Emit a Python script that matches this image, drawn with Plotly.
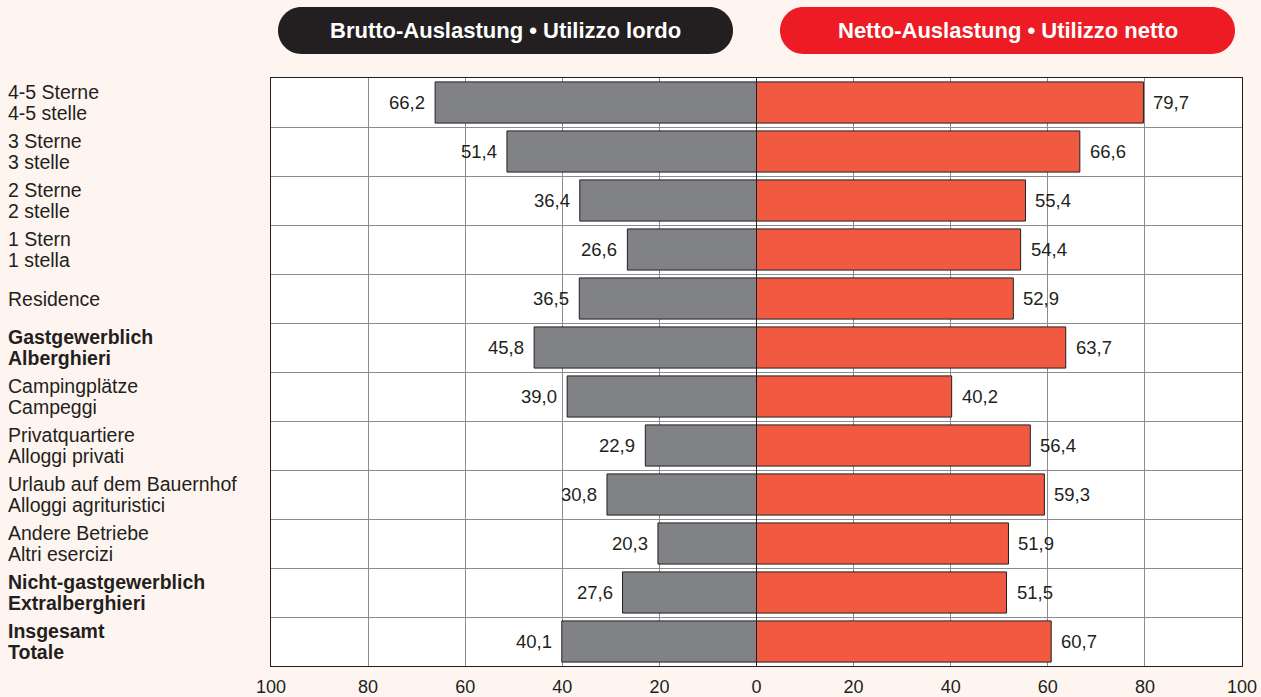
import plotly.graph_objects as go

# ---- data ----
labels_de = ["4-5 Sterne", "3 Sterne", "2 Sterne", "1 Stern", "Residence", "Gastgewerblich",
             "Campingplätze", "Privatquartiere", "Urlaub auf dem Bauernhof", "Andere Betriebe",
             "Nicht-gastgewerblich", "Insgesamt"]
labels_it = ["4-5 stelle", "3 stelle", "2 stelle", "1 stella", "", "Alberghieri",
             "Campeggi", "Alloggi privati", "Alloggi agrituristici", "Altri esercizi",
             "Extralberghieri", "Totale"]
bold_rows = [False, False, False, False, False, True, False, False, False, False, True, True]
brutto = [66.2, 51.4, 36.4, 26.6, 36.5, 45.8, 39.0, 22.9, 30.8, 20.3, 27.6, 40.1]
netto = [79.7, 66.6, 55.4, 54.4, 52.9, 63.7, 40.2, 56.4, 59.3, 51.9, 51.5, 60.7]
tick_vals = [-100, -80, -60, -40, -20, 0, 20, 40, 60, 80, 100]
tick_text = ["100", "80", "60", "40", "20", "0", "20", "40", "60", "80", "100"]
title_left = "Brutto-Auslastung • Utilizzo lordo"
title_right = "Netto-Auslastung • Utilizzo netto"

W, H = 1261, 697
ML, MR, MT, MB = 271, 19, 78, 31
PW, PH = W - ML - MR, H - MT - MB

DARK = "#231f20"
GRAY = "#808285"
RED = "#f15a40"
HEAD_RED = "#ed1c24"
BG = "#fef5f1"
GRID = "#8c8c8c"
FONT = "Liberation Sans, Arial, sans-serif"

idx = list(range(len(labels_de)))


def fmt(v):
    return f"{v:.1f}".replace(".", ",")


fig = go.Figure()
fig.add_trace(go.Bar(y=idx, x=[-v for v in brutto], orientation="h", width=0.84,
                     marker=dict(color=GRAY, line=dict(color=DARK, width=1)),
                     hoverinfo="skip", showlegend=False))
fig.add_trace(go.Bar(y=idx, x=netto, orientation="h", width=0.84,
                     marker=dict(color=RED, line=dict(color=DARK, width=1)),
                     hoverinfo="skip", showlegend=False))

annotations = []
for i in idx:
    annotations.append(dict(x=-brutto[i], y=i, xref="x", yref="y", text=fmt(brutto[i]),
                            showarrow=False, xanchor="right", xshift=-8,
                            font=dict(size=18.5, color=DARK, family=FONT)))
    annotations.append(dict(x=netto[i], y=i, xref="x", yref="y", text=fmt(netto[i]),
                            showarrow=False, xanchor="left", xshift=8,
                            font=dict(size=18.5, color=DARK, family=FONT)))
    lines = [labels_de[i]] + ([labels_it[i]] if labels_it[i] else [])
    shifts = [10.5, -10.5] if len(lines) == 2 else [0]
    for t, s in zip(lines, shifts):
        txt = f"<b>{t}</b>" if bold_rows[i] else t
        annotations.append(dict(x=(6 - ML) / PW, y=i, xref="paper", yref="y", text=txt,
                                showarrow=False, xanchor="left", yshift=s,
                                font=dict(size=19.5, color=DARK, family=FONT)))


def px2paper(x, y):
    return (x - ML) / PW, (H - MB - y) / PH


def pill_path(x0, y0, x1, y1):
    r = (y1 - y0) / 2
    k = 0.5523 * r

    def P(x, y):
        px, py = px2paper(x, y)
        return f"{px:.5f},{py:.5f}"
    d = f"M {P(x0 + r, y0)} L {P(x1 - r, y0)} "
    d += f"C {P(x1 - r + k, y0)} {P(x1, y0 + r - k)} {P(x1, y0 + r)} "
    d += f"C {P(x1, y0 + r + k)} {P(x1 - r + k, y1)} {P(x1 - r, y1)} "
    d += f"L {P(x0 + r, y1)} "
    d += f"C {P(x0 + r - k, y1)} {P(x0, y0 + r + k)} {P(x0, y0 + r)} "
    d += f"C {P(x0, y0 + r - k)} {P(x0 + r - k, y0)} {P(x0 + r, y0)} Z"
    return d


shapes = [
    dict(type="path", xref="paper", yref="paper", path=pill_path(278, 7, 733, 54),
         fillcolor=DARK, line=dict(width=0), layer="above"),
    dict(type="path", xref="paper", yref="paper", path=pill_path(780, 7, 1235, 54),
         fillcolor=HEAD_RED, line=dict(width=0), layer="above"),
]
hx_l = px2paper(505.5, 0)[0]
hx_r = px2paper(1007.5, 0)[0]
hy = px2paper(0, 31)[1]
annotations.append(dict(x=hx_l, y=hy, xref="paper", yref="paper", text=f"<b>{title_left}</b>",
                        showarrow=False, xanchor="center", yanchor="middle",
                        font=dict(size=22, color="white", family=FONT)))
annotations.append(dict(x=hx_r, y=hy, xref="paper", yref="paper", text=f"<b>{title_right}</b>",
                        showarrow=False, xanchor="center", yanchor="middle",
                        font=dict(size=22, color="white", family=FONT)))

fig.update_layout(
    width=W, height=H, margin=dict(l=ML, r=MR, t=MT, b=MB, autoexpand=False),
    paper_bgcolor=BG, plot_bgcolor="white", barmode="overlay",
    font=dict(family=FONT, color=DARK),
    annotations=annotations, shapes=shapes,
    xaxis=dict(range=[-100, 100], tickvals=tick_vals, ticktext=tick_text,
               showgrid=True, gridcolor=GRID, gridwidth=1,
               zeroline=True, zerolinecolor=DARK, zerolinewidth=1,
               showline=True, mirror=True, linecolor=DARK, linewidth=1,
               ticks="", ticklabelstandoff=4, tickfont=dict(size=18, color=DARK, family=FONT),
               fixedrange=True),
    yaxis=dict(range=[11.5, -0.5], tickvals=[i + 0.5 for i in idx[:-1]],
               showticklabels=False, showgrid=True, gridcolor=GRID, gridwidth=1,
               zeroline=False, showline=True, mirror=True, linecolor=DARK, linewidth=1,
               ticks="", fixedrange=True),
)

fig.write_html("out.html", config={"displayModeBar": False},
               post_script="document.body.style.margin='0';document.body.style.background='"
                           + BG + "';")
